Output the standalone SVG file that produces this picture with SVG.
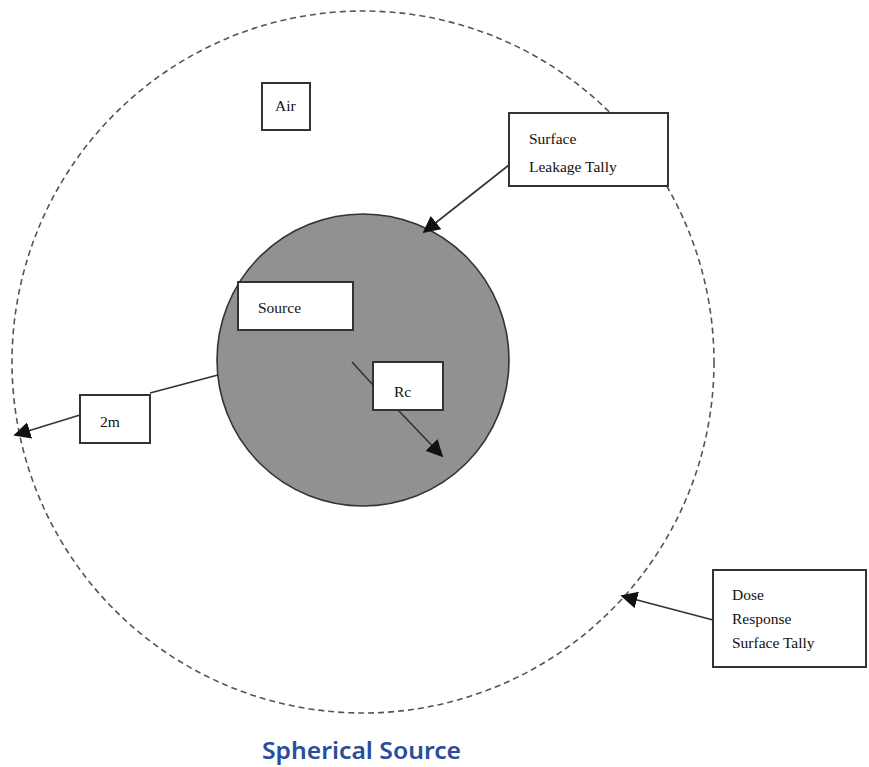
<svg xmlns="http://www.w3.org/2000/svg" width="869" height="767" viewBox="0 0 869 767">
<defs>
<style>
.box{fill:#fff;stroke:#333;stroke-width:2}
.lbl{font-family:"Liberation Serif",serif;font-size:15.5px;fill:#111}
.ln{stroke:#333;stroke-width:1.6;fill:none}
</style>
<marker id="ahb" viewBox="0 0 10 10" refX="9" refY="5" markerWidth="17" markerHeight="17" markerUnits="userSpaceOnUse" orient="auto">
<path d="M0,0 L10,5 L0,10 z" fill="#111"/>
</marker>
</defs>
<rect width="869" height="767" fill="#fff"/>
<g id="outer-sphere">
<circle cx="363" cy="362" r="351" fill="none" stroke="#555" stroke-width="1.6" stroke-dasharray="6 4"/>
</g>
<g id="source-sphere">
<circle cx="363" cy="360" r="146" fill="#8f928f" stroke="#333" stroke-width="1.6"/>
</g>
<g id="connectors">
<line class="ln" x1="509" y1="165" x2="424" y2="232" marker-end="url(#ahb)"/>
<line class="ln" x1="352" y1="362" x2="373" y2="385"/>
<line class="ln" x1="398" y1="410" x2="442" y2="456" marker-end="url(#ahb)"/>
<line class="ln" x1="150" y1="393" x2="218" y2="375"/>
<line class="ln" x1="80" y1="415" x2="15" y2="435" marker-end="url(#ahb)"/>
<line class="ln" x1="713" y1="620" x2="622" y2="596" marker-end="url(#ahb)"/>
</g>
<g id="air">
<rect class="box" x="262" y="83" width="48" height="47"/>
<text class="lbl" x="275" y="111">Air</text>
</g>
<g id="surface-leakage-tally">
<rect class="box" x="509" y="113" width="159" height="73"/>
<text class="lbl" x="529" y="144">Surface</text>
<text class="lbl" x="529" y="172">Leakage Tally</text>
</g>
<g id="source">
<rect class="box" x="238" y="282" width="115" height="48"/>
<text class="lbl" x="258" y="313">Source</text>
</g>
<g id="rc">
<rect class="box" x="373" y="362" width="70" height="48"/>
<text class="lbl" x="394" y="397" fill="#3a2a3a">Rc</text>
</g>
<g id="two-m">
<rect class="box" x="80" y="395" width="70" height="48"/>
<text class="lbl" x="100" y="427">2m</text>
</g>
<g id="dose-response">
<rect class="box" x="713" y="570" width="153" height="97"/>
<text class="lbl" x="732" y="600">Dose</text>
<text class="lbl" x="732" y="624">Response</text>
<text class="lbl" x="732" y="648">Surface Tally</text>
</g>
<g id="caption">
<text x="262" y="759" textLength="199" lengthAdjust="spacingAndGlyphs" font-family="'Noto Sans',sans-serif" font-weight="600" font-size="23" fill="#2a4d9c">Spherical Source</text>
</g>
</svg>
